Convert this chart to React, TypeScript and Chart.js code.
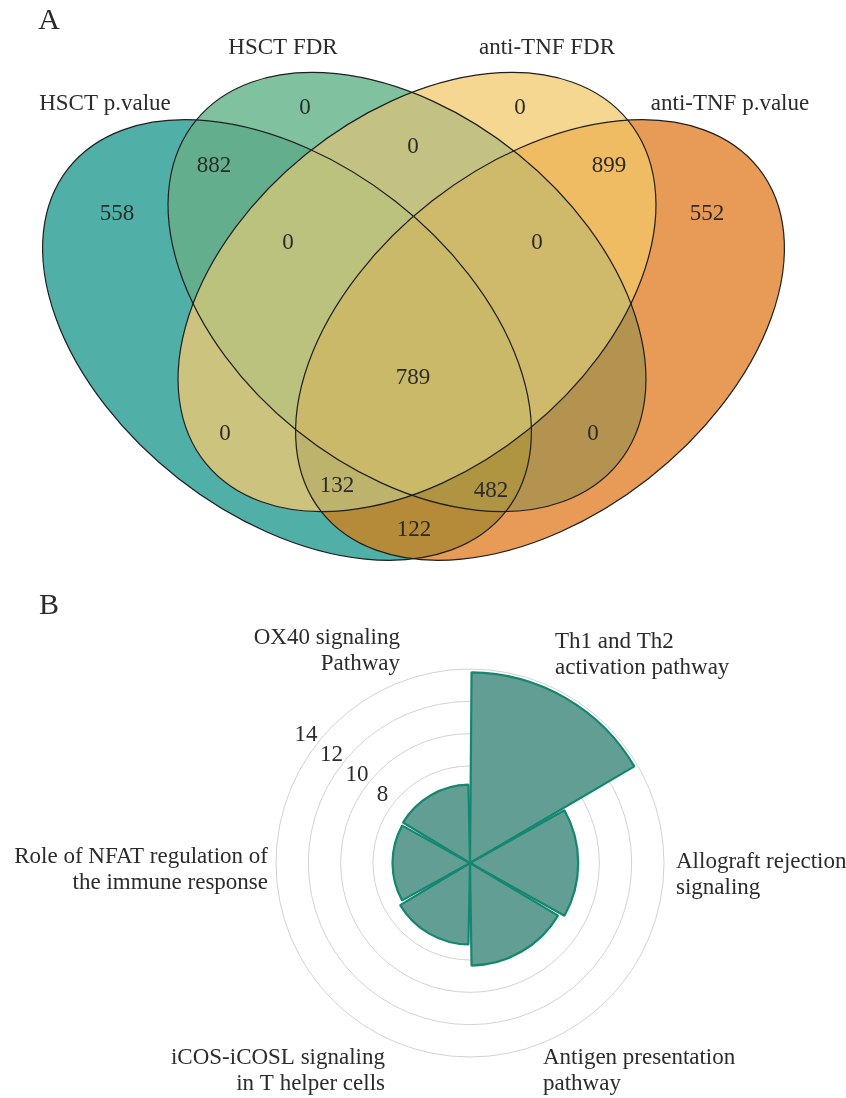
// Venn diagram (panel A) and pathway polar plot (panel B)
import React, { useEffect, useRef } from 'react';
import { Chart, registerables } from 'chart.js';

Chart.register(...registerables);

const FONT = '"Liberation Serif", "DejaVu Serif", serif';
const INK = '#2b2b2b';

// ---- Panel A: four ellipses (x, y in picture units, y downwards) ----
const setNames = ['HSCT p.value', 'HSCT FDR', 'anti-TNF FDR', 'anti-TNF p.value'];
const ellipseX = [287, 407, 417, 540];
const ellipseY = [340, 292, 292, 340];
const ellipseA = [278, 272, 272, 278];
const ellipseB = [176, 177, 177, 176];
const ellipseTilt = [38, 39, -39, -38];
const setLabelX = [105, 283, 547, 730];
const setLabelY = [104, 48, 48, 104];

// membership bits: 1 HSCT p.value, 2 HSCT FDR, 4 anti-TNF FDR, 8 anti-TNF p.value
const regionMask = [1, 3, 2, 6, 4, 12, 8, 7, 14, 15, 5, 10, 13, 11, 9];
const regionCount = [558, 882, 0, 0, 0, 899, 552, 0, 0, 789, 0, 0, 132, 482, 122];
const regionX = [117, 214, 305, 413, 520, 609, 707, 288, 537, 413, 225, 593, 337, 491, 414];
const regionY = [214, 166, 108, 147, 108, 166, 214, 243, 243, 378, 434, 434, 486, 491, 530];

const regionFill: Record<number, string> = {
  1: '#50afa6', 2: '#80c29f', 3: '#63af8d', 4: '#f6d792', 5: '#ccc37e',
  6: '#c3c283', 7: '#bbc27e', 8: '#e89a57', 9: '#b58a38', 10: '#b4924f',
  11: '#af9441', 12: '#efbc63', 13: '#bdb36c', 14: '#cfb96a', 15: '#cab968',
};

// ---- Panel B: pathways ----
const pathways = [
  ['Th1 and Th2', 'activation pathway'],
  ['Allograft rejection', 'signaling'],
  ['Antigen presentation', 'pathway'],
  ['iCOS-iCOSL signaling', 'in T helper cells'],
  ['Role of NFAT regulation of', 'the immune response'],
  ['OX40 signaling', 'Pathway'],
];
const enrichment = [13.7, 8.6, 8.25, 6.95, 6.7, 6.75];
const radialTicks = [8, 10, 12, 14];

// label offsets from the plot centre (px)
const labelPos = [
  { dx: 85, dy: -221, align: 'left' },
  { dx: 206, dy: -1, align: 'left' },
  { dx: 73, dy: 195, align: 'left' },
  { dx: -85, dy: 195, align: 'right' },
  { dx: -202, dy: -6, align: 'right' },
  { dx: -70, dy: -225, align: 'right' },
];

const vennPlugin = {
  id: 'venn',
  beforeDatasetsDraw(chart: any) {
    const { ctx, width, height } = chart;
    const { x, y } = chart.scales;
    const unit = x.getPixelForValue(1) - x.getPixelForValue(0);
    const paths = ellipseX.map((cx, i) => {
      const p = new Path2D();
      p.ellipse(x.getPixelForValue(cx), y.getPixelForValue(ellipseY[i]),
        ellipseA[i] * unit, ellipseB[i] * unit, (ellipseTilt[i] * Math.PI) / 180, 0, Math.PI * 2);
      return p;
    });
    for (let mask = 1; mask < 16; mask++) {
      ctx.save();
      paths.forEach((p, i) => {
        if (mask & (1 << i)) {
          ctx.clip(p);
        } else {
          const out = new Path2D();
          out.rect(0, 0, width, height);
          out.addPath(p);
          ctx.clip(out, 'evenodd');
        }
      });
      ctx.fillStyle = regionFill[mask];
      ctx.fillRect(0, 0, width, height);
      ctx.restore();
    }
    ctx.save();
    ctx.strokeStyle = '#1e1e1e';
    ctx.lineWidth = 1.2;
    paths.forEach((p) => ctx.stroke(p));
    ctx.restore();
  },
  afterDatasetsDraw(chart: any) {
    const { ctx } = chart;
    const { x, y } = chart.scales;
    ctx.save();
    ctx.fillStyle = INK;
    ctx.textAlign = 'center';
    ctx.textBaseline = 'middle';
    ctx.font = `23px ${FONT}`;
    chart.getDatasetMeta(0).data.forEach((pt: any, i: number) => {
      ctx.fillText(String(regionCount[i]), pt.x, pt.y);
    });
    setNames.forEach((name, i) => {
      ctx.fillText(name, x.getPixelForValue(setLabelX[i]), y.getPixelForValue(setLabelY[i]));
    });
    ctx.font = `30px ${FONT}`;
    ctx.fillText('A', 49, 21);
    ctx.restore();
  },
};

const polarText = {
  id: 'polarText',
  afterDraw(chart: any) {
    const { ctx } = chart;
    const r = chart.scales.r;
    const cx = r.xCenter;
    const cy = r.yCenter;
    ctx.save();
    ctx.fillStyle = INK;
    ctx.textBaseline = 'middle';
    ctx.font = `23px ${FONT}`;
    ctx.textAlign = 'center';
    const ang = (218 * Math.PI) / 180;
    radialTicks.forEach((v) => {
      const d = r.getDistanceFromCenterForValue(v) + 14;
      ctx.fillText(String(v), cx + Math.cos(ang) * d, cy + Math.sin(ang) * d);
    });
    pathways.forEach((lines, i) => {
      const p = labelPos[i];
      ctx.textAlign = p.align;
      lines.forEach((line, j) => ctx.fillText(line, cx + p.dx, cy + p.dy + j * 26));
    });
    ctx.font = `30px ${FONT}`;
    ctx.textAlign = 'center';
    ctx.fillText('B', 49, 31);
    ctx.restore();
  },
};

const App: React.FC = () => {
  const vennRef = useRef<HTMLCanvasElement>(null);
  const polarRef = useRef<HTMLCanvasElement>(null);

  useEffect(() => {
    if (!vennRef.current || !polarRef.current) return;

    const venn = new Chart(vennRef.current, {
      type: 'scatter',
      data: {
        datasets: [{
          data: regionX.map((x, i) => ({ x, y: regionY[i] })),
          pointRadius: 0,
        }],
      },
      options: {
        responsive: false,
        animation: false,
        events: [],
        layout: { padding: 0 },
        plugins: { legend: { display: false }, tooltip: { enabled: false } },
        scales: {
          x: { type: 'linear', min: 0, max: 846, display: false },
          y: { type: 'linear', min: 0, max: 575, reverse: true, display: false },
        },
      },
      plugins: [vennPlugin],
    } as any);

    const polar = new Chart(polarRef.current, {
      type: 'polarArea',
      data: {
        labels: pathways.map((p) => p.join(' ')),
        datasets: [{
          data: enrichment,
          backgroundColor: '#629e94',
          borderColor: '#13876f',
          borderWidth: 2.2,
          spacing: 3,
        }],
      },
      options: {
        responsive: false,
        animation: false,
        events: [],
        layout: { padding: { left: 276, right: 182, top: 94, bottom: 41 } },
        plugins: { legend: { display: false }, tooltip: { enabled: false } },
        scales: {
          r: {
            min: 2,
            max: 14,
            afterBuildTicks: (s: any) => {
              s.ticks = [2, ...radialTicks].map((value) => ({ value }));
            },
            ticks: { display: false },
            grid: { color: '#d2d2d2', lineWidth: 1 },
            angleLines: { display: false },
            pointLabels: { display: false },
          },
        },
      },
      plugins: [polarText],
    } as any);

    return () => {
      venn.destroy();
      polar.destroy();
    };
  }, []);

  return (
    <div style={{ position: 'absolute', left: 0, top: 0, width: 846, height: 1098, background: '#fff' }}>
      <canvas ref={vennRef} width={846} height={575} style={{ display: 'block' }} />
      <canvas ref={polarRef} width={846} height={523} style={{ display: 'block' }} />
    </div>
  );
};

export default App;
